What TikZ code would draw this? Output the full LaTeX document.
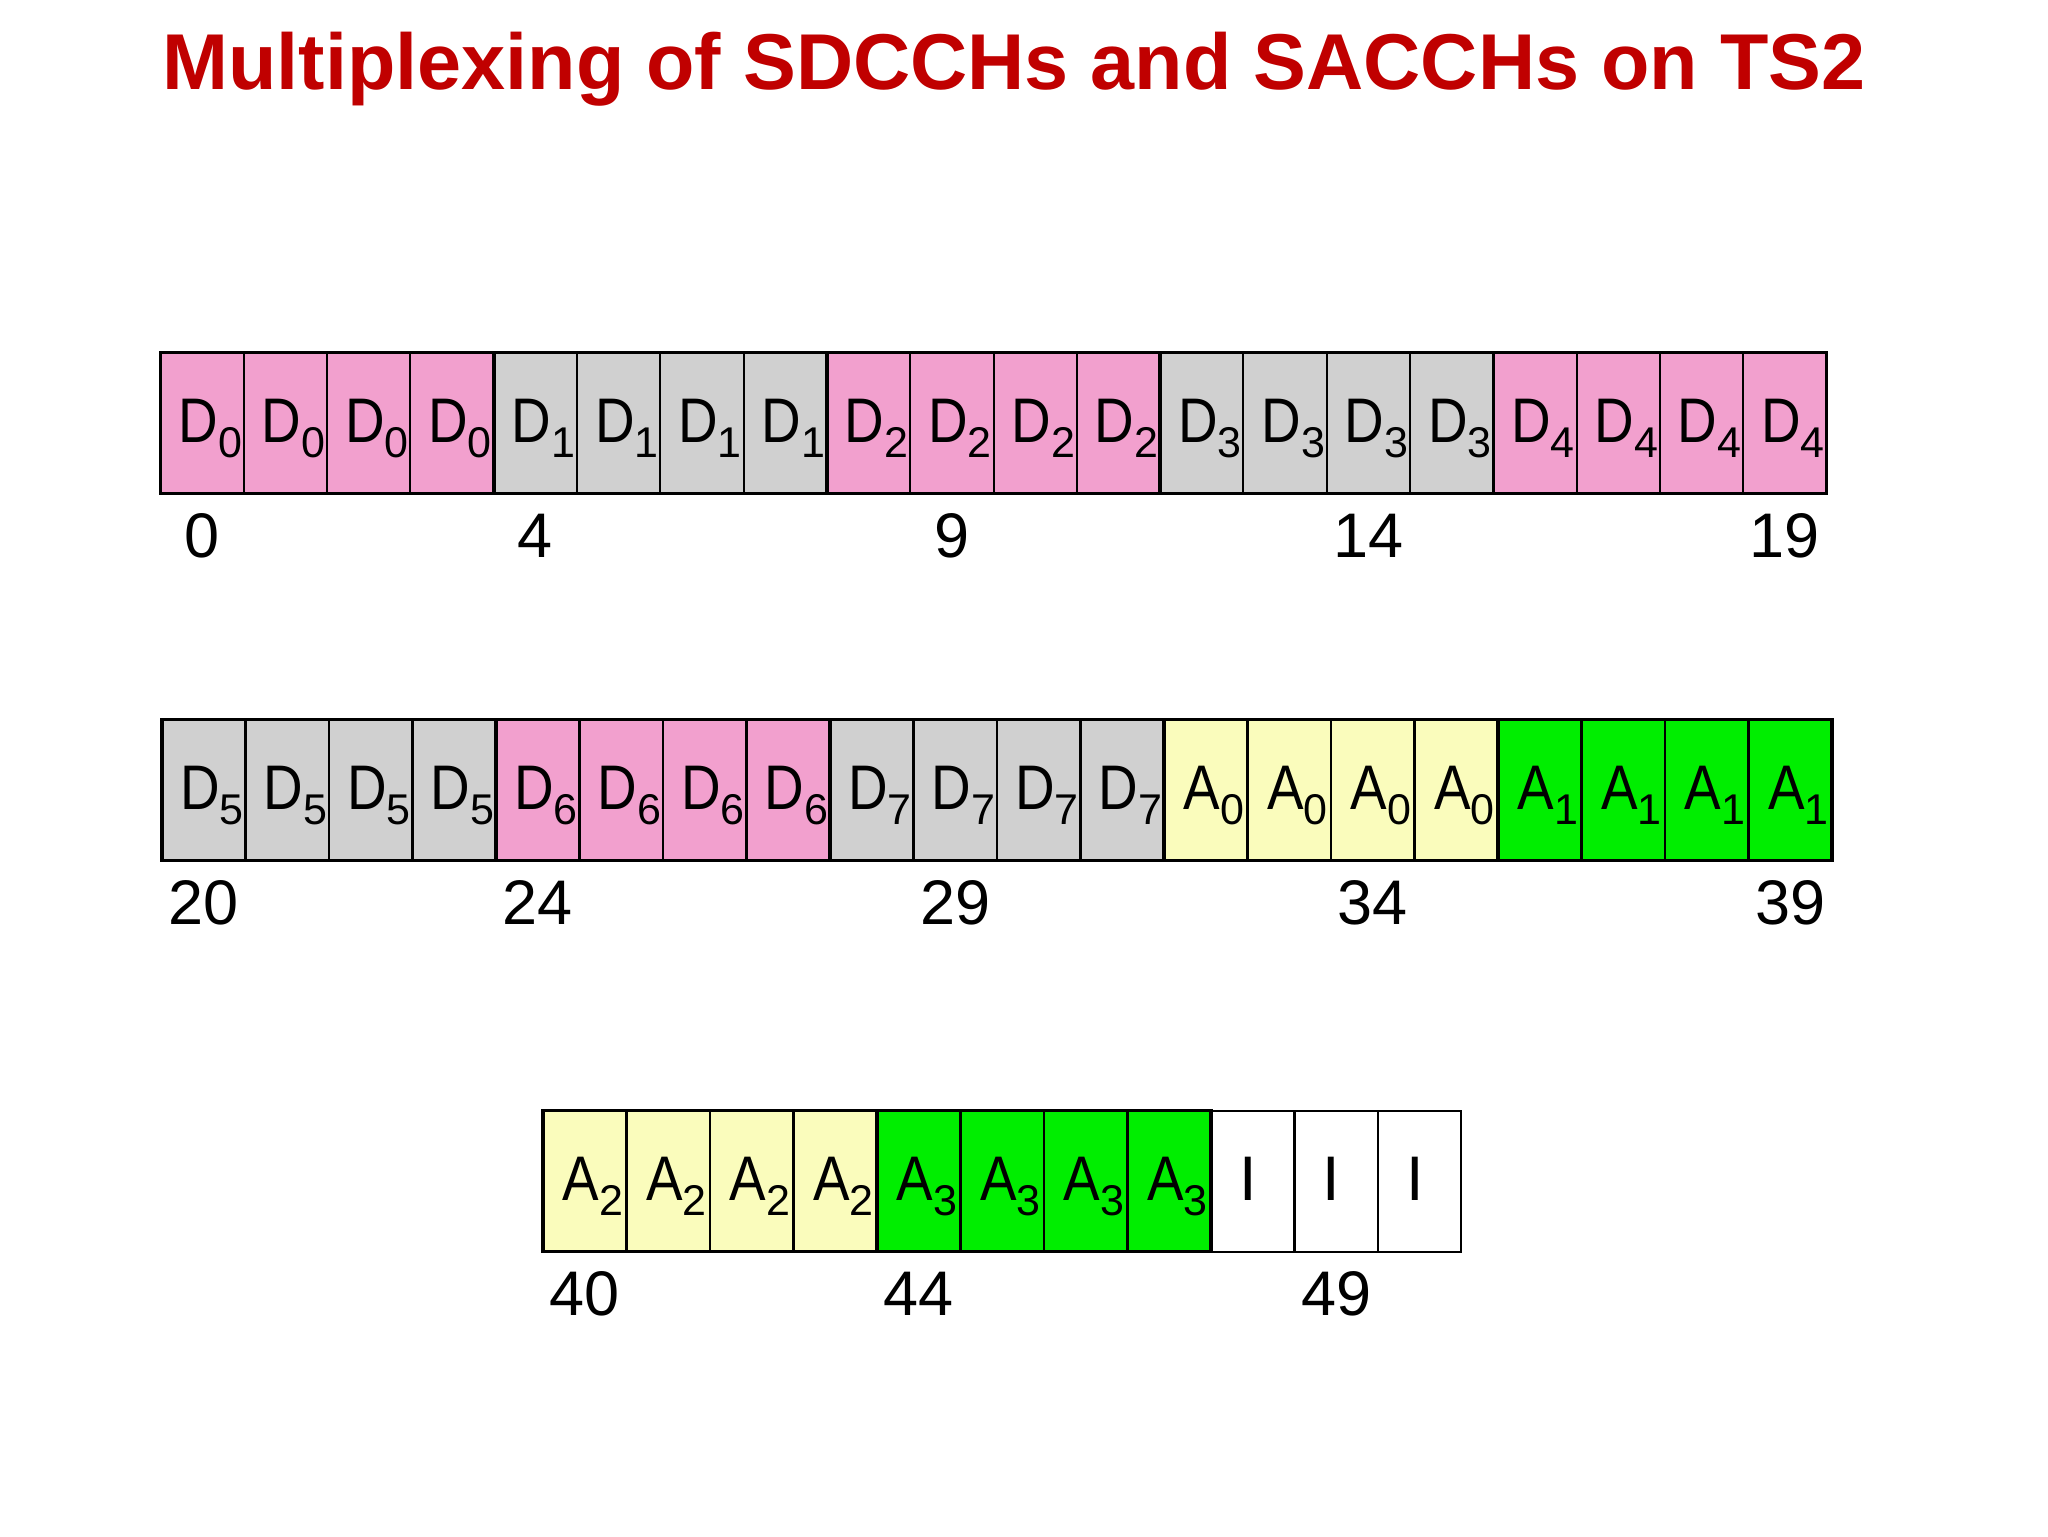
\documentclass[tikz,border=0pt]{standalone}
\usepackage{fontspec}
\setmainfont{Liberation Sans}
\definecolor{pinkc}{RGB}{242,160,206}
\definecolor{grayc}{RGB}{208,208,208}
\definecolor{yelc}{RGB}{250,252,188}
\definecolor{grnc}{RGB}{0,238,0}
\definecolor{titlered}{RGB}{192,0,0}
\newcommand{\lab}[2]{\scalebox{0.87}[1]{#1}\raisebox{-7.5pt}{\fontsize{21.5}{21.5}\selectfont #2}}
\begin{document}
\begin{tikzpicture}[x=0.5pt,y=-0.5pt,
  cellbox/.style={draw=black, line width=1pt, minimum width=41.7pt, minimum height=70.5pt, inner sep=0pt, outer sep=0pt},
  grpbox/.style={draw=black, line width=1.75pt},
  celltext/.style={anchor=base, font=\fontsize{31.5}{31.5}\selectfont, inner sep=0pt},
  numtext/.style={font=\fontsize{31.5}{31.5}\selectfont, inner sep=0pt},
  titletext/.style={anchor=base, text=titlered, font=\fontsize{39.6}{39.6}\selectfont\bfseries, inner sep=0pt}]
\useasboundingbox (0,0) rectangle (2048,1536);
\fill[white] (0,0) rectangle (2048,1536);

\node[titletext] (title) at (1014,90) {Multiplexing of SDCCHs and SACCHs on TS2};

% Row 1
\foreach \c/\l/\s [count=\g from 0] in {pinkc/D/0,grayc/D/1,pinkc/D/2,grayc/D/3,pinkc/D/4}{
  \foreach \k in {0,1,2,3}{
    \pgfmathtruncatemacro{\i}{4*\g+\k}
    \node[cellbox,fill=\c] (r1c\i) at ({160.6+(\i+0.5)*83.3},423) {};
    \node[celltext] (r1t\i) at ([xshift=4pt,yshift=-9.5pt]r1c\i.center) {\lab{\l}{\s}};
  }
}
\foreach \a/\b in {0/3,4/7,8/11,12/15,16/19}
  \draw[grpbox] (r1c\a.north west) rectangle (r1c\b.south east);
\foreach \i in {0,4,9,14,19}
  \node[numtext] (r1n\i) at ([yshift=-21pt]r1c\i.south) {\i};

% Row 2
\foreach \c/\l/\s [count=\g from 0] in {grayc/D/5,pinkc/D/6,grayc/D/7,yelc/A/0,grnc/A/1}{
  \foreach \k in {0,1,2,3}{
    \pgfmathtruncatemacro{\i}{4*\g+\k}
    \node[cellbox,fill=\c] (r2c\i) at ({162+(\i+0.5)*83.5},790) {};
    \node[celltext] (r2t\i) at ([xshift=4pt,yshift=-9.5pt]r2c\i.center) {\lab{\l}{\s}};
  }
}
\foreach \a/\b in {0/3,4/7,8/11,12/15,16/19}
  \draw[grpbox] (r2c\a.north west) rectangle (r2c\b.south east);
\foreach \i/\n in {0/20,4/24,9/29,14/34,19/39}
  \node[numtext] (r2n\i) at ([yshift=-21pt]r2c\i.south) {\n};

% Row 3
\foreach \c/\l/\s [count=\g from 0] in {yelc/A/2,grnc/A/3}{
  \foreach \k in {0,1,2,3}{
    \pgfmathtruncatemacro{\i}{4*\g+\k}
    \node[cellbox,fill=\c] (r3c\i) at ({543+(\i+0.5)*83.5},1181) {};
    \node[celltext] (r3t\i) at ([xshift=4pt,yshift=-9.5pt]r3c\i.center) {\lab{\l}{\s}};
  }
}
\foreach \i in {8,9,10}{
  \node[cellbox,fill=white] (r3c\i) at ({543+(\i+0.5)*83.5},1181) {};
  \node[celltext] (r3t\i) at ([xshift=-2.5pt,yshift=-9.5pt]r3c\i.center) {I};
}
\foreach \a/\b in {0/3,4/7}
  \draw[grpbox] (r3c\a.north west) rectangle (r3c\b.south east);
\foreach \i/\n in {0/40,4/44,9/49}
  \node[numtext] (r3n\i) at ([yshift=-21pt]r3c\i.south) {\n};
\end{tikzpicture}
\end{document}
